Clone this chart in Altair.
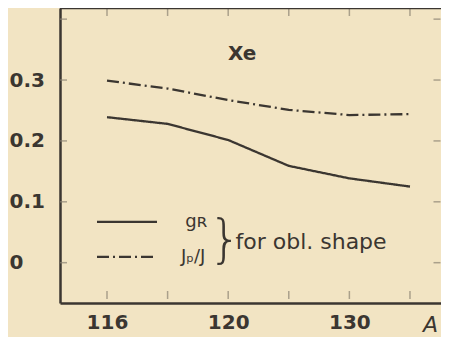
import altair as alt
import pandas as pd

# ---- data ----
x_idx = [0, 1, 2, 3, 4, 5]
g_R = [0.239, 0.228, 0.2015, 0.159, 0.1385, 0.125]
Jp_J = [0.299, 0.286, 0.267, 0.251, 0.2425, 0.244]
series_names = ["g_R", "Jp/J"]
series_labels = ["gʀ", "Jₚ/J"]

x_tick_values = [0, 2, 4]
x_tick_labels = ["116", "120", "130"]
y_tick_values = [0, 0.1, 0.2, 0.3]
y_tick_labels = ["0", "0.1", "0.2", "0.3"]
minor_x_ticks = [0, 1, 2, 3, 4, 5]
minor_y_ticks = [0, 0.1, 0.2, 0.3, 0.4]

# legend annotation (data coordinates)
legend_x = [-0.165, 0.825]
legend_y = [0.067, 0.0095]
legend_label_x = [1.29, 1.22]
brace_pos = [1.95, 0.038]
note_pos = [2.12, 0.034]
note_text = "for obl. shape"
element_pos = [2.23, 0.343]
element_text = "Xe"

ink = "#3b3631"
tick_col = "#8c8374"
bg = "#f2e4c3"

X_MIN, X_MAX = -0.7756, 5.512
Y_MIN, Y_MAX = -0.0662, 0.4183

xscale = alt.Scale(domain=[X_MIN, X_MAX], nice=False, zero=False)
yscale = alt.Scale(domain=[Y_MIN, Y_MAX], nice=False, zero=False)
dash_scale = alt.Scale(domain=series_names, range=[[1, 0], [12, 4, 2, 4]])

rows = []
for name, vals in zip(series_names, [g_R, Jp_J]):
    for xv, yv in zip(x_idx, vals):
        rows.append({"x": xv, "y": yv, "series": name})
df_lines = pd.DataFrame(rows)

leg_rows = []
for name, yv in zip(series_names, legend_y):
    for xv in legend_x:
        leg_rows.append({"x": xv, "y": yv, "series": name})
df_leg = pd.DataFrame(leg_rows)

xlab_expr = " : ".join(
    f"datum.value == {v} ? '{l}'" for v, l in zip(x_tick_values, x_tick_labels)
) + " : ''"
ylab_expr = " : ".join(
    f"datum.value == {v} ? '{l}'" for v, l in zip(y_tick_values, y_tick_labels)
) + " : ''"

x_enc = alt.X(
    "x:Q",
    scale=xscale,
    axis=alt.Axis(
        values=x_tick_values,
        labelExpr=xlab_expr,
        labelPadding=9,
        title="A",
        titleX=370,
        titleY=28,
        titleAlign="center",
        titleBaseline="alphabetic",
        titleFontStyle="italic",
        titleFontWeight="normal",
        titleFontSize=22,
        titleFont="DejaVu Sans",
        titleColor=ink,
    ),
)
y_enc = alt.Y(
    "y:Q",
    scale=yscale,
    axis=alt.Axis(
        values=y_tick_values,
        labelExpr=ylab_expr,
        labelAlign="left",
        labelPadding=51,
        title=None,
    ),
)

lines = alt.Chart(df_lines).mark_line(color=ink, strokeWidth=2.3).encode(
    x=x_enc,
    y=y_enc,
    strokeDash=alt.StrokeDash("series:N", scale=dash_scale, legend=None),
)

leg_lines = alt.Chart(df_leg).mark_line(color=ink, strokeWidth=2.3).encode(
    x="x:Q",
    y="y:Q",
    strokeDash=alt.StrokeDash("series:N", scale=dash_scale, legend=None),
)

df_leg_text = pd.DataFrame({"x": legend_label_x, "y": legend_y, "t": series_labels})
leg_text = alt.Chart(df_leg_text).mark_text(
    align="left", baseline="middle", font="DejaVu Sans", fontSize=18, color=ink
).encode(x="x:Q", y="y:Q", text="t:N")

df_brace = pd.DataFrame({"x": [brace_pos[0]], "y": [brace_pos[1]], "t": ["}"]})
brace = alt.Chart(df_brace).mark_text(
    align="center", baseline="middle", font="DejaVu Sans", fontSize=52,
    fontWeight=200, color=ink
).encode(x="x:Q", y="y:Q", text="t:N")

df_note = pd.DataFrame({"x": [note_pos[0]], "y": [note_pos[1]], "t": [note_text]})
note = alt.Chart(df_note).mark_text(
    align="left", baseline="middle", font="DejaVu Sans", fontSize=22,
    color=ink
).encode(x="x:Q", y="y:Q", text="t:N")

df_el = pd.DataFrame({"x": [element_pos[0]], "y": [element_pos[1]], "t": [element_text]})
element = alt.Chart(df_el).mark_text(
    align="center", baseline="middle", font="DejaVu Sans", fontSize=20,
    fontWeight="bold", color=ink
).encode(x="x:Q", y="y:Q", text="t:N")

# frame: top edge of the plot area (left/bottom come from the axis domains)
df_top = pd.DataFrame({"y": [Y_MAX]})
top_edge = alt.Chart(df_top).mark_rule(color=ink, strokeWidth=2.5).encode(
    y=alt.Y("y:Q")
)

df_xt = pd.DataFrame({"x": minor_x_ticks})
df_yt = pd.DataFrame({"y": minor_y_ticks})
top_ticks = alt.Chart(df_xt).mark_tick(color=tick_col, thickness=1.5, size=8).encode(
    x="x:Q", y=alt.value(4)
)
bot_ticks = alt.Chart(df_xt).mark_tick(color=tick_col, thickness=1.5, size=8).encode(
    x="x:Q", y=alt.value(287)
)
left_ticks = alt.Chart(df_yt).mark_tick(color=tick_col, thickness=1.5, size=7).encode(
    y="y:Q", x=alt.value(3.5)
)
right_ticks = alt.Chart(df_yt).mark_tick(color=tick_col, thickness=1.5, size=7).encode(
    y="y:Q", x=alt.value(377)
)

chart = (
    alt.layer(
        top_ticks, bot_ticks, left_ticks, right_ticks, top_edge,
        lines, leg_lines, leg_text, brace, note, element,
    )
    .properties(
        width=381,
        height=295,
        autosize=alt.AutoSizeParams(type="none"),
        padding={"left": 52, "top": 0, "right": 0, "bottom": 34},
        background=bg,
    )
    .configure_view(stroke="transparent", strokeWidth=0)
    .configure_axis(
        labelFont="DejaVu Sans",
        labelFontWeight="bold",
        labelFontSize=20,
        labelColor=ink,
        domain=True,
        domainColor=ink,
        domainWidth=2.5,
        ticks=False,
        grid=False,
    )
)

chart.save("out.html", embed_options={"renderer": "svg", "actions": False})
